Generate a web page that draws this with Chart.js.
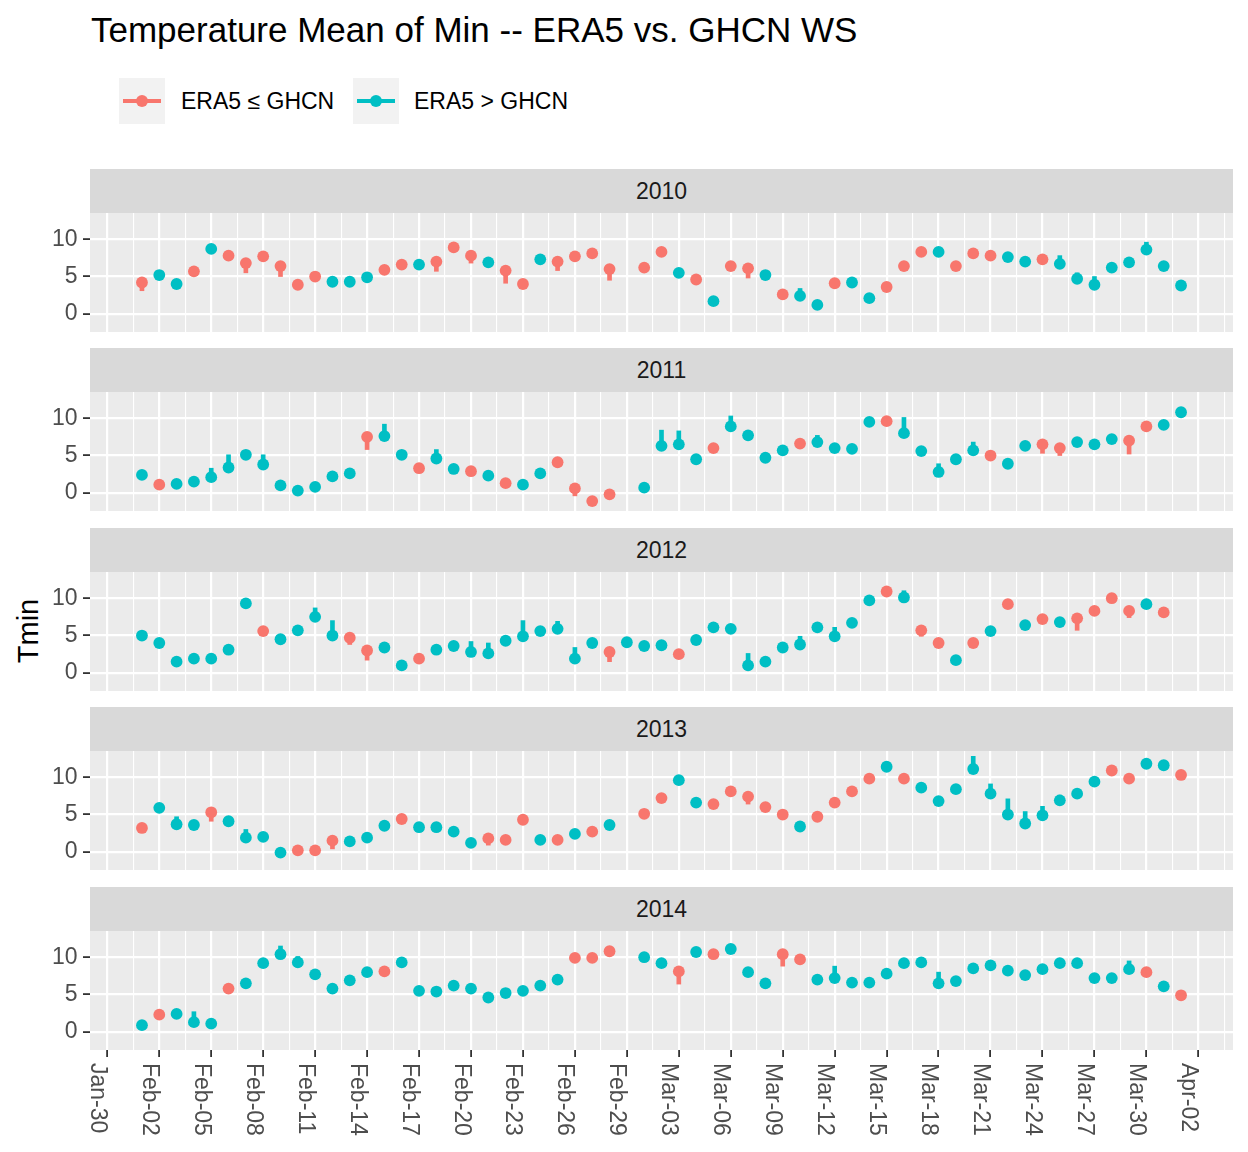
<!DOCTYPE html>
<html>
<head>
<meta charset="utf-8">
<script src="https://cdn.jsdelivr.net/npm/chart.js@4.4.1/dist/chart.umd.min.js"></script>
<style>
body { margin: 0; width: 1248px; height: 1152px; background: #fff; position: relative; overflow: hidden;
       font-family: "Liberation Sans", Arial, sans-serif; }
#title { position: absolute; left: 91px; top: 12px; font-size: 35px; line-height: 35px; color: #000; white-space: nowrap; }
.key { position: absolute; top: 78px; width: 46px; height: 46px; background: #F2F2F2; }
.key .kl { position: absolute; left: 4px; top: 21px; width: 38px; height: 4px; }
.key .kp { position: absolute; left: 17px; top: 17px; width: 12px; height: 12px; border-radius: 50%; }
.ktext { position: absolute; top: 78px; height: 46px; line-height: 46px; font-size: 23px; color: #000; white-space: nowrap; }
.strip { position: absolute; left: 90px; width: 1143px; height: 44px; background: #D9D9D9; color: #1A1A1A;
         font-size: 23px; line-height: 44px; text-align: center; }
#ylab { position: absolute; left: -22px; top: 616px; width: 100px; height: 30px; line-height: 30px; text-align: center;
        font-size: 29px; color: #000; transform: rotate(-90deg); }
canvas { position: absolute; left: 0; }
</style>
</head>
<body>
<div id="title">Temperature Mean of Min -- ERA5 vs. GHCN WS</div>
<div class="key" style="left:119px"><div class="kl" style="background:#F8766D"></div><div class="kp" style="background:#F8766D"></div></div>
<div class="ktext" style="left:181px">ERA5 ≤ GHCN</div>
<div class="key" style="left:353px"><div class="kl" style="background:#00BFC4"></div><div class="kp" style="background:#00BFC4"></div></div>
<div class="ktext" style="left:414px">ERA5 &gt; GHCN</div>
<div id="ylab">Tmin</div>
<script>
// day index 0 = Feb-01, 28 = Feb-29, 60 = Apr-01
const tickDays = [-2, 1, 4, 7, 10, 13, 16, 19, 22, 25, 28, 31, 34, 37, 40, 43, 46, 49, 52, 55, 58, 61];
const tickLabels = ['Jan-30', 'Feb-02', 'Feb-05', 'Feb-08', 'Feb-11', 'Feb-14', 'Feb-17', 'Feb-20', 'Feb-23',
  'Feb-26', 'Feb-29', 'Mar-03', 'Mar-06', 'Mar-09', 'Mar-12', 'Mar-15', 'Mar-18', 'Mar-21', 'Mar-24',
  'Mar-27', 'Mar-30', 'Apr-02'];
const yTicks = [0, 5, 10];
const years = ['2010', '2011', '2012', '2013', '2014'];

// R = ERA5 <= GHCN, T = ERA5 > GHCN, - = no data
const tmin2010 = [4.2, 5.2, 4.0, 5.7, 8.7, 7.8, 6.8, 7.7, 6.4, 3.9, 5.0, 4.3, 4.3, 4.9, 5.9, 6.6, 6.6, 7.0, 8.9, 7.8,
  6.9, 5.8, 4.0, 7.3, 7.0, 7.7, 8.1, 6.0, null, 6.2, 8.3, 5.5, 4.6, 1.7, 6.4, 6.1, 5.2, 2.6, 2.4, 1.2,
  4.1, 4.2, 2.1, 3.6, 6.4, 8.3, 8.3, 6.4, 8.1, 7.8, 7.6, 7.0, 7.3, 6.7, 4.7, 3.9, 6.2, 6.9, 8.6, 6.4, 3.8];
const grp2010 = 'RTTRTRRRRRRTTTRRTRRRTRRTRRRR-RRTRTRRTRTTRTTRRRTRRRTTRTTTTTTTT';
const seg2010 = [[0, 3.1], [6, 5.5], [7, 7.1], [8, 5.0], [10, 4.4], [17, 5.7], [19, 6.8], [21, 4.1], [24, 5.8],
  [27, 4.5], [32, 4.1], [35, 4.8], [37, 2.0], [38, 3.4], [40, 3.6], [44, 5.9], [53, 7.8], [54, 5.5], [55, 5.0], [58, 9.6]];

const tmin2011 = [2.4, 1.1, 1.2, 1.5, 2.1, 3.4, 5.1, 3.8, 1.0, 0.3, 0.8, 2.2, 2.6, 7.5, 7.6, 5.1, 3.3, 4.6, 3.2, 2.9,
  2.3, 1.3, 1.1, 2.6, 4.1, 0.6, -1.1, -0.2, null, 0.7, 6.3, 6.5, 4.5, 6.0, 8.9, 7.7, 4.7, 5.7, 6.6, 6.8,
  6.0, 5.9, 9.5, 9.6, 8.0, 5.6, 2.8, 4.5, 5.7, 5.0, 3.9, 6.3, 6.5, 6.0, 6.8, 6.5, 7.2, 7.0, 8.9, 9.1, 10.8];
const grp2011 = 'TRTTTTTTTTTTTRTTRTTRTRTTRRRR-TTTTRTTTTRTTTTRTTTTTRTTRRTTTRRTT';
const seg2011 = [[4, 3.3], [5, 5.1], [7, 5.1], [13, 5.8], [14, 9.2], [17, 5.8], [19, 2.3], [25, -0.4], [30, 8.4],
  [31, 8.3], [34, 10.3], [39, 7.7], [44, 10.1], [46, 3.9], [48, 6.8], [52, 5.3], [53, 5.0], [57, 5.2]];

const tmin2012 = [5.0, 4.0, 1.5, 1.9, 1.9, 3.1, 9.3, 5.6, 4.5, 5.7, 7.5, 5.0, 4.7, 3.0, 3.4, 1.0, 1.9, 3.1, 3.6, 2.8,
  2.6, 4.3, 4.9, 5.6, 5.9, 1.9, 4.0, 2.8, 4.1, 3.6, 3.7, 2.5, 4.4, 6.1, 5.9, 1.0, 1.5, 3.4, 3.8, 6.1,
  4.9, 6.7, 9.7, 10.9, 10.1, 5.7, 4.0, 1.7, 4.0, 5.6, 9.2, 6.4, 7.2, 6.8, 7.3, 8.3, 10.0, 8.3, 9.2, 8.1, null];
const grp2012 = 'TTTTTTTRTTTTRRTTRTTTTTTTTTTRTTTRTTTTTTTTTTTRTRRTRTRTRTRRRRTR-';
const seg2012 = [[10, 8.7], [11, 7.0], [12, 3.8], [13, 1.7], [19, 4.2], [20, 4.0], [22, 7.0], [24, 6.9], [25, 3.4],
  [27, 1.5], [35, 2.6], [38, 4.9], [40, 6.1], [44, 11.0], [45, 4.9], [54, 5.7], [57, 7.4]];

const tmin2013 = [3.2, 5.9, 3.7, 3.6, 5.3, 4.1, 1.9, 2.0, -0.1, 0.2, 0.2, 1.5, 1.4, 1.9, 3.5, 4.4, 3.3, 3.3, 2.7, 1.2,
  1.8, 1.6, 4.3, 1.6, 1.6, 2.4, 2.7, 3.6, null, 5.1, 7.2, 9.6, 6.6, 6.4, 8.1, 7.4, 6.0, 5.0, 3.4, 4.7,
  6.6, 8.1, 9.8, 11.4, 9.8, 8.6, 6.8, 8.4, 11.1, 7.8, 5.0, 3.8, 4.9, 6.9, 7.8, 9.4, 10.9, 9.8, 11.8, 11.6, 10.3];
const grp2013 = 'RTTTRTTTTRRRTTTRTTTTRRRTRTRT-RRTTRRRRRTRRRRTRTTTTTTTTTTTRRTTR';
const seg2013 = [[2, 4.7], [4, 4.1], [6, 3.0], [11, 0.4], [20, 0.9], [26, 2.2], [35, 6.4], [48, 12.8], [49, 9.1],
  [50, 7.1], [51, 5.4], [52, 6.1], [53, 7.6]];

const tmin2014 = [0.9, 2.3, 2.4, 1.3, 1.1, 5.8, 6.5, 9.2, 10.4, 9.3, 7.7, 5.8, 6.9, 8.0, 8.1, 9.3, 5.5, 5.4, 6.2, 5.8,
  4.6, 5.2, 5.5, 6.2, 7.0, 9.9, 9.9, 10.8, null, 10.0, 9.2, 8.1, 10.7, 10.4, 11.1, 8.0, 6.5, 10.4, 9.7, 7.0,
  7.2, 6.6, 6.6, 7.8, 9.2, 9.3, 6.5, 6.8, 8.5, 8.9, 8.2, 7.6, 8.4, 9.2, 9.2, 7.2, 7.2, 8.4, 8.0, 6.1, 4.9];
const grp2014 = 'TRTTTRTTTTTTTTRTTTTTTTTTTRRR-TTRTRTTTRRTTTTTTTTTTTTTTTTTTTRTR';
const seg2014 = [[3, 2.7], [8, 11.5], [9, 10.1], [31, 6.4], [37, 8.8], [40, 8.8], [46, 8.0], [57, 9.5]];

const RED = '#F8766D', TEAL = '#00BFC4';
const FONT = '"Liberation Sans", Arial, sans-serif';
const panels = [
  [tmin2010, grp2010, seg2010], [tmin2011, grp2011, seg2011], [tmin2012, grp2012, seg2012],
  [tmin2013, grp2013, seg2013], [tmin2014, grp2014, seg2014]
];

const panelBg = {
  id: 'panelBg',
  beforeDraw(chart) {
    const a = chart.chartArea, ctx = chart.ctx;
    ctx.save();
    ctx.fillStyle = '#EBEBEB';
    ctx.fillRect(a.left, a.top, a.right - a.left, a.bottom - a.top);
    ctx.restore();
  }
};

// ggplot style labels: rotated clockwise, reading downwards
const dateLabels = {
  id: 'dateLabels',
  afterDraw(chart) {
    if (!chart.options.plugins.dateLabels.show) return;
    const s = chart.scales.x, ctx = chart.ctx;
    ctx.save();
    ctx.fillStyle = '#4D4D4D';
    ctx.font = '23px ' + FONT;
    ctx.textAlign = 'left';
    ctx.textBaseline = 'alphabetic';
    tickDays.forEach((d, i) => {
      ctx.save();
      ctx.translate(s.getPixelForValue(d), chart.chartArea.bottom + 13);
      ctx.rotate(Math.PI / 2);
      ctx.fillText(tickLabels[i], 0, 16.5);
      ctx.restore();
    });
    ctx.restore();
  }
};

const isMajorX = v => Math.abs((v + 2) / 3 - Math.round((v + 2) / 3)) < 1e-6;
const isMajorY = v => yTicks.includes(v);

function makePanel(k) {
  const [vals, grp, segs] = panels[k];
  const last = k === panels.length - 1;
  const stripTop = 169 + 179.4 * k;
  const panelTop = stripTop + 44;

  const strip = document.createElement('div');
  strip.className = 'strip';
  strip.style.top = stripTop + 'px';
  strip.textContent = years[k];
  document.body.appendChild(strip);

  const cv = document.createElement('canvas');
  const h = last ? Math.round(1152 - panelTop) : 119;
  cv.width = 1248;
  cv.height = h;
  cv.style.top = panelTop + 'px';
  document.body.appendChild(cv);

  const pts = g => vals.map((v, i) => ({ x: i, y: v })).filter((p, i) => p.y !== null && grp[i] === g);

  new Chart(cv, {
    type: 'scatter',
    data: {
      datasets: [
        {
          type: 'bar',
          data: segs.map(([i, end]) => ({ x: i, y: [vals[i], end] })),
          backgroundColor: segs.map(([i]) => grp[i] === 'R' ? RED : TEAL),
          barThickness: 4, grouped: false, borderWidth: 0, order: 2
        },
        { data: pts('R'), backgroundColor: RED, pointRadius: 5.9, pointHoverRadius: 5.9, borderWidth: 0, order: 1 },
        { data: pts('T'), backgroundColor: TEAL, pointRadius: 5.9, pointHoverRadius: 5.9, borderWidth: 0, order: 1 }
      ]
    },
    options: {
      responsive: false,
      animation: false,
      events: [],
      layout: { autoPadding: false, padding: { left: 0, right: 15, top: 0, bottom: 0 } },
      plugins: { legend: { display: false }, tooltip: { enabled: false }, dateLabels: { show: last } },
      scales: {
        x: {
          type: 'linear', min: -3, max: 63, offset: false,
          afterBuildTicks: s => {
            const t = [];
            for (let v = -2; v <= 63; v += 1.5) t.push({ value: v });
            s.ticks = t;
          },
          afterFit: s => { s.height = h - 119; s.paddingLeft = 0; s.paddingRight = 0; },
          border: { display: false },
          grid: {
            offset: false,
            color: '#FFFFFF',
            lineWidth: c => (c.tick && isMajorX(c.tick.value)) ? 2.2 : 1.1,
            drawTicks: last,
            tickLength: 7,
            tickWidth: 1.8,
            tickColor: c => (c.tick && isMajorX(c.tick.value)) ? '#333333' : 'rgba(0,0,0,0)'
          },
          ticks: { display: false }
        },
        y: {
          type: 'linear', min: -2.43, max: 13.51,
          afterBuildTicks: s => {
            s.ticks = [-2.5, 0, 2.5, 5, 7.5, 10, 12.5].filter(v => v >= s.min && v <= s.max).map(v => ({ value: v }));
          },
          afterFit: s => { s.width = 90; s.paddingTop = 0; s.paddingBottom = 0; },
          border: { display: false },
          grid: {
            color: '#FFFFFF',
            lineWidth: c => (c.tick && isMajorY(c.tick.value)) ? 2.2 : 1.1,
            tickLength: 7,
            tickWidth: 1.8,
            tickColor: c => (c.tick && isMajorY(c.tick.value)) ? '#333333' : 'rgba(0,0,0,0)'
          },
          ticks: {
            color: '#4D4D4D', padding: 5.5, font: { size: 23, family: FONT },
            callback: v => isMajorY(v) ? String(v) : ''
          }
        }
      }
    },
    plugins: [panelBg, dateLabels]
  });
}

panels.forEach((p, k) => makePanel(k));
</script>
</body>
</html>
